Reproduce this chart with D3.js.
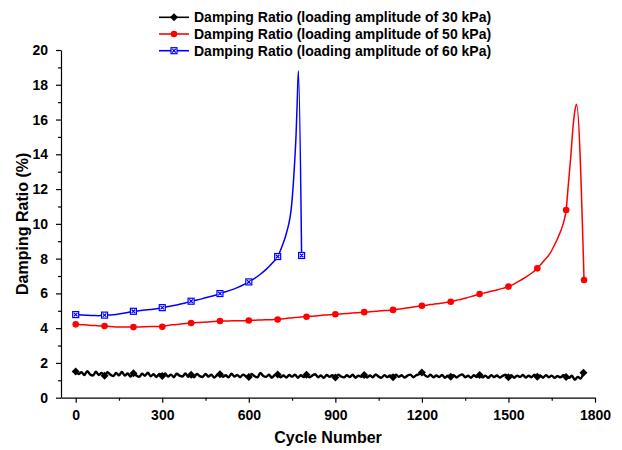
<!DOCTYPE html>
<html lang="en">
<head>
<meta charset="UTF-8">
<title>Damping Ratio vs Cycle Number</title>
<script src="https://cdn.jsdelivr.net/npm/d3@7"></script>
<style>
    body { margin: 0; background: #ffffff; }
    svg { display: block; font-family: 'Liberation Sans', Arial, sans-serif; }
    .axis text { font-size: 14px; font-weight: bold; fill: #000; }
    .axis path, .axis line { stroke: #000; stroke-width: 1.2px; }
    .title { font-size: 16px; font-weight: bold; }
    .legend text { font-size: 14px; font-weight: bold; }
</style>
</head>
<body>
<div id="chart"></div>
<script>
    const svgWidth = 622;
    const svgHeight = 450;
    const margin = { top: 50, right: 27, bottom: 52.3, left: 61 };

    const xTicks = [0, 300, 600, 900, 1200, 1500, 1800];
    const yTicks = [0, 2, 4, 6, 8, 10, 12, 14, 16, 18, 20];

    const legendLabels = [
        "Damping Ratio (loading amplitude of 30 kPa)",
        "Damping Ratio (loading amplitude of 50 kPa)",
        "Damping Ratio (loading amplitude of 60 kPa)"
    ];

    // 30 kPa: one reading every 10 cycles, 0..1760
    const cycles30 = d3.range(0, 1761, 10);
    const ratio30 = [
        1.50, 1.36, 1.47, 1.30, 1.53, 1.34, 1.28, 1.49, 1.31, 1.43,
        1.26, 1.46, 1.33, 1.24, 1.42, 1.29, 1.48, 1.27, 1.39, 1.22,
        1.41, 1.28, 1.20, 1.38, 1.26, 1.44, 1.23, 1.35, 1.19, 1.37,
        1.25, 1.40, 1.21, 1.33, 1.18, 1.38, 1.27, 1.22, 1.39, 1.20,
        1.32, 1.17, 1.36, 1.24, 1.19, 1.37, 1.21, 1.32, 1.16, 1.30,
        1.35, 1.20, 1.29, 1.17, 1.38, 1.22, 1.31, 1.18, 1.33, 1.24,
        1.19, 1.36, 1.23, 1.17, 1.42, 1.25, 1.20, 1.32, 1.15, 1.30,
        1.34, 1.18, 1.28, 1.16, 1.31, 1.21, 1.33, 1.15, 1.29, 1.19,
        1.32, 1.17, 1.27, 1.35, 1.18, 1.28, 1.14, 1.31, 1.20, 1.30,
        1.16, 1.33, 1.22, 1.17, 1.29, 1.19, 1.32, 1.15, 1.27, 1.20,
        1.31, 1.16, 1.28, 1.18, 1.34, 1.21, 1.15, 1.30, 1.19, 1.28,
        1.17, 1.32, 1.20, 1.29, 1.16, 1.27, 1.33, 1.18, 1.29, 1.35,
        1.45, 1.30, 1.20, 1.32, 1.17, 1.28, 1.19, 1.31, 1.15, 1.27,
        1.20, 1.30, 1.16, 1.28, 1.34, 1.18, 1.26, 1.15, 1.29, 1.19,
        1.31, 1.17, 1.27, 1.14, 1.30, 1.19, 1.28, 1.16, 1.26, 1.32,
        1.18, 1.29, 1.15, 1.27, 1.19, 1.31, 1.16, 1.26, 1.18, 1.33,
        1.20, 1.28, 1.15, 1.30, 1.18, 1.27, 1.14, 1.25, 1.17, 1.29,
        1.19, 1.14, 1.26, 1.03, 1.20, 1.10, 1.44
    ];
    const markers30 = [0, 100, 200, 300, 400, 500, 600, 700, 800, 900, 1000, 1100, 1200, 1300, 1400, 1500, 1600, 1700, 1760];

    // 50 kPa
    const cycles50 = [0, 20, 40, 60, 80, 100, 120, 140, 160, 180, 200, 220, 240, 260, 280, 300,
        320, 340, 360, 380, 400, 420, 440, 460, 480, 500, 520, 540, 560, 580, 600,
        620, 640, 660, 680, 700, 720, 740, 760, 780, 800, 820, 840, 860, 880, 900,
        920, 940, 960, 980, 1000, 1020, 1040, 1060, 1080, 1100, 1120, 1140, 1160, 1180, 1200,
        1220, 1240, 1260, 1280, 1300, 1320, 1340, 1360, 1380, 1400, 1420, 1440, 1460, 1480, 1500,
        1520, 1540, 1560, 1580, 1600, 1620, 1644, 1660, 1673, 1690, 1700, 1707, 1716, 1725, 1733, 1736, 1762];
    const ratio50 = [4.22, 4.20, 4.18, 4.16, 4.13, 4.12, 4.09, 4.07, 4.06, 4.06, 4.06, 4.07, 4.08, 4.09, 4.10, 4.08,
        4.16, 4.20, 4.23, 4.27, 4.30, 4.32, 4.34, 4.36, 4.38, 4.41, 4.41, 4.42, 4.43, 4.43, 4.44,
        4.46, 4.47, 4.48, 4.49, 4.50, 4.54, 4.58, 4.61, 4.64, 4.66, 4.69, 4.72, 4.75, 4.77, 4.80,
        4.82, 4.84, 4.87, 4.89, 4.92, 4.95, 4.97, 5.00, 5.02, 5.05, 5.10, 5.14, 5.19, 5.24, 5.29,
        5.33, 5.38, 5.42, 5.47, 5.52, 5.60, 5.68, 5.77, 5.86, 5.96, 6.04, 6.12, 6.20, 6.29, 6.39,
        6.55, 6.73, 6.93, 7.16, 7.44, 7.82, 8.30, 8.80, 9.26, 10.03, 10.80, 12.14, 13.86, 15.78, 16.74, 16.88, 6.77];
    const markers50 = [0, 100, 200, 300, 400, 500, 600, 700, 800, 900, 1000, 1100, 1200, 1300, 1400, 1500, 1600, 1700, 1762];

    // 60 kPa
    const cycles60 = [0, 20, 40, 60, 80, 100, 120, 140, 160, 180, 200, 220, 240, 260, 280, 300,
        320, 340, 360, 380, 400, 420, 440, 460, 480, 500, 520, 540, 560, 580, 600,
        620, 640, 660, 680, 700, 715, 731, 749, 758, 764, 768, 772, 783];
    const ratio60 = [4.78, 4.76, 4.74, 4.73, 4.72, 4.75, 4.76, 4.79, 4.84, 4.90, 4.97, 5.00, 5.04, 5.08, 5.12, 5.18,
        5.24, 5.30, 5.37, 5.45, 5.55, 5.62, 5.70, 5.79, 5.88, 5.99, 6.09, 6.20, 6.33, 6.48, 6.66,
        6.86, 7.10, 7.38, 7.72, 8.12, 8.70, 9.50, 11.18, 13.29, 15.20, 17.12, 18.79, 8.18];
    const markers60 = [0, 100, 200, 300, 400, 500, 600, 700, 783];

    const width = svgWidth - margin.left - margin.right;
    const height = svgHeight - margin.top - margin.bottom;

    const svg = d3.select("#chart").append("svg")
        .attr("width", svgWidth)
        .attr("height", svgHeight);

    const g = svg.append("g")
        .attr("transform", `translate(${margin.left},${margin.top})`);

    const x = d3.scaleLinear().domain([-51, 1800]).range([0, width]);
    const y = d3.scaleLinear().domain([0, 20]).range([height, 0]);

    // minor ticks
    g.append("g").attr("class", "axis")
        .attr("transform", `translate(0,${height})`)
        .call(d3.axisBottom(x).tickValues(d3.range(150, 1800, 300)).tickSize(3).tickFormat(""))
        .select(".domain").remove();
    g.append("g").attr("class", "axis")
        .call(d3.axisLeft(y).tickValues(d3.range(1, 20, 2)).tickSize(3).tickFormat(""))
        .select(".domain").remove();

    // major axes
    g.append("g").attr("class", "axis")
        .attr("transform", `translate(0,${height})`)
        .call(d3.axisBottom(x).tickValues(xTicks).tickSize(5).tickSizeOuter(0).tickPadding(7).tickFormat(d3.format("d")));
    g.append("g").attr("class", "axis")
        .call(d3.axisLeft(y).tickValues(yTicks).tickSize(5).tickSizeOuter(0).tickPadding(8));

    const series = [
        { cycles: cycles30, values: ratio30, markers: markers30, color: "#000000", shape: "diamond", width: 2.4 },
        { cycles: cycles50, values: ratio50, markers: markers50, color: "#ff0000", shape: "circle", width: 1.5 },
        { cycles: cycles60, values: ratio60, markers: markers60, color: "#0000ff", shape: "square", width: 1.5 }
    ];

    function drawMarker(sel, shape, color) {
        if (shape === "diamond") {
            sel.append("path").attr("d", "M0,-4L4,0L0,4L-4,0Z").attr("fill", color);
        } else if (shape === "circle") {
            sel.append("circle").attr("r", 3.3).attr("fill", color);
        } else {
            sel.append("rect").attr("x", -3).attr("y", -3).attr("width", 6).attr("height", 6)
                .attr("fill", "#ffffff").attr("stroke", color).attr("stroke-width", 1.2);
            sel.append("path").attr("d", "M-1.8,-1.8L1.8,1.8M-1.8,1.8L1.8,-1.8").attr("stroke", color).attr("stroke-width", 1.2);
        }
    }

    const line = d3.line().x(d => x(d[0])).y(d => y(d[1])).curve(d3.curveMonotoneX);

    series.forEach(s => {
        const pts = s.cycles.map((c, i) => [c, s.values[i]]);
        g.append("path")
            .datum(pts)
            .attr("fill", "none")
            .attr("stroke", s.color)
            .attr("stroke-width", s.width)
            .attr("stroke-linejoin", "round")
            .attr("d", line);

        const markPts = pts.filter(p => s.markers.includes(p[0]));
        markPts.forEach(p => {
            const m = g.append("g").attr("transform", `translate(${x(p[0])},${y(p[1])})`);
            drawMarker(m, s.shape, s.color);
        });
    });

    // axis titles
    svg.append("text").attr("class", "title")
        .attr("transform", `translate(28,${margin.top + height / 2}) rotate(-90)`)
        .attr("text-anchor", "middle")
        .text("Damping Ratio (%)");
    svg.append("text").attr("class", "title")
        .attr("x", margin.left + width / 2)
        .attr("y", 443)
        .attr("text-anchor", "middle")
        .text("Cycle Number");

    // legend
    const legend = svg.append("g").attr("class", "legend");
    series.forEach((s, i) => {
        const row = legend.append("g").attr("transform", `translate(0,${17.3 + i * 16.7})`);
        row.append("line").attr("x1", 159).attr("x2", 189)
            .attr("stroke", s.color).attr("stroke-width", 1.6);
        drawMarker(row.append("g").attr("transform", "translate(174,0)"), s.shape, s.color);
        row.append("text").attr("x", 194).attr("y", 5).text(legendLabels[i]);
    });
</script>
</body>
</html>
